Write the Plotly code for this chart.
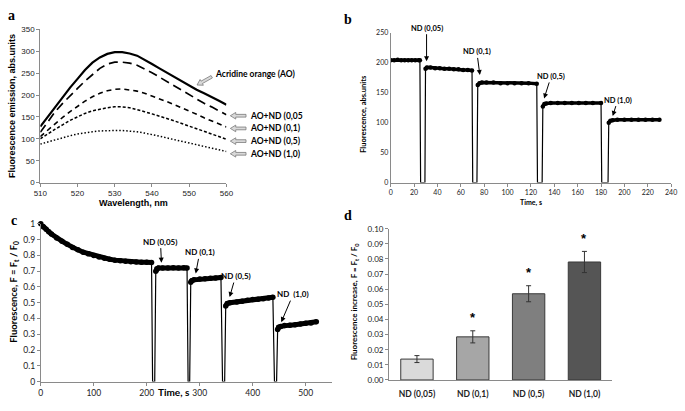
import math
import plotly.graph_objects as go

W, H = 685, 411

# ---------------- data ----------------
# panel a: emission spectra
wavelength_nm = [510, 512, 514, 516, 518, 520, 522, 524, 526, 528, 530, 532, 534,
                 536, 538, 540, 542, 544, 546, 548, 550, 552, 554, 556, 558, 560]
ao = [128, 150, 172, 196, 217, 237, 257, 274, 286, 294, 298, 298, 295,
      290, 281, 271, 261, 251, 241, 231, 221, 212, 204, 196, 187, 178]
ao_nd_005 = [115, 140, 162, 181, 199, 215, 232, 247, 261, 271, 275, 275, 273,
             268, 260, 251, 241, 231, 221, 211, 200, 190, 181, 173, 164, 155]
ao_nd_01 = [105, 120, 135, 149, 162, 175, 186, 196, 204, 210, 213, 214, 212,
            209, 204, 198, 192, 185, 178, 171, 164, 156, 148, 141, 134, 127]
ao_nd_05 = [100, 112, 122, 132, 142, 150, 158, 164, 168, 171, 173, 173, 171,
            167, 162, 157, 152, 147, 141, 135, 129, 123, 117, 111, 105, 99]
ao_nd_10 = [88, 93, 98, 103, 107, 111, 114, 116, 118, 119, 119, 119, 118,
            116, 113, 110, 106, 102, 98, 94, 90, 86, 82, 78, 75, 71]
spectra_names = ["Acridine orange (AO)", "AO+ND (0,05", "AO+ND (0,1)", "AO+ND (0,5)", "AO+ND (1,0)"]

# panel b: fluorescence vs time (abs. units)
b_plateau_time = [
    [0, 3, 6, 9, 12, 15, 18, 21, 24, 25],
    [29.8, 31, 34, 38, 42, 46, 50, 54, 58, 62, 66, 69.6],
    [74.5, 76, 78, 82, 88, 94, 100, 106, 112, 118, 125],
    [130.2, 131.5, 133, 137, 143, 149, 155, 161, 167, 173, 180],
    [186.6, 188, 190, 194, 200, 206, 212, 218, 224, 230],
]
b_plateau_signal = [
    [204, 204, 205, 204, 204, 204, 204, 204, 204, 204],
    [190, 192, 192, 191, 191, 190, 190, 189, 189, 188, 188, 187],
    [163, 166, 167, 167, 167, 166, 166, 166, 166, 166, 165],
    [127, 131, 132, 133, 133, 133, 133, 133, 133, 133, 133],
    [100, 103, 104, 105, 105, 105, 105, 105, 105, 105],
]
b_gap_time = [[25.6, 29.3], [70.2, 73.8], [125.6, 129.6], [180.6, 186.0]]
b_gap_signal = [[0, 0], [0, 0], [0, 0], [0, 0]]
b_add_labels = ["ND (0,05)", "ND (0,1)", "ND (0,5)", "ND (1,0)"]
b_add_time = [30.7, 76.3, 131.3, 190.0]
b_add_level = [202.6, 179.7, 140.5, 111.0]

# panel c: normalised fluorescence F = Ft/F0 vs time
c_plateau_time = [
    [0, 5, 10, 15, 20, 30, 40, 50, 60, 70, 80, 90, 100, 110, 120, 130, 140, 150,
     160, 170, 180, 190, 200, 209],
    [217, 219, 222, 230, 240, 250, 260, 270, 276],
    [283, 285, 289, 300, 310, 320, 330, 340],
    [349, 352, 357, 370, 380, 390, 400, 410, 420, 430, 438],
    [447, 449, 453, 460, 470, 480, 490, 500, 510, 520],
]
c_plateau_signal = [
    [1.0, 0.98, 0.965, 0.95, 0.935, 0.91, 0.89, 0.87, 0.85, 0.835, 0.82, 0.81, 0.80,
     0.79, 0.782, 0.776, 0.77, 0.766, 0.763, 0.76, 0.758, 0.757, 0.756, 0.755],
    [0.70, 0.715, 0.72, 0.72, 0.72, 0.722, 0.72, 0.722, 0.72],
    [0.63, 0.64, 0.645, 0.65, 0.652, 0.655, 0.657, 0.66],
    [0.48, 0.495, 0.50, 0.505, 0.51, 0.515, 0.52, 0.522, 0.525, 0.53, 0.535],
    [0.33, 0.345, 0.35, 0.355, 0.358, 0.36, 0.365, 0.37, 0.372, 0.38],
]
c_gap_time = [[211, 215], [278, 281], [343, 347], [441, 445]]
c_gap_signal = [[0, 0], [0, 0], [0, 0], [0, 0]]
c_add_labels = ["ND (0,05)", "ND (0,1)", "ND (0,5)", "ND\u00a0 (1,0)"]
c_add_time = [227.7, 292.4, 356.4, 453.8]
c_add_level = [0.754, 0.686, 0.536, 0.377]

# panel d: fluorescence increase
d_labels = ["ND (0,05)", "ND (0,1)", "ND (0,5)", "ND (1,0)"]
d_values = [0.0138, 0.0285, 0.057, 0.078]
d_errors = [0.0023, 0.0040, 0.0053, 0.0070]
d_significant = [False, True, True, True]

# ---------------- styles ----------------
ARIAL = "Liberation Sans, Arial, sans-serif"
CALIBRI = "Lato, Carlito, Calibri, sans-serif"
SERIF = "Liberation Serif, Times New Roman, serif"
AX_GRAY = "#8a8a8a"
TXT = "#222222"
BAR_COLORS = ["#dadada", "#a6a6a6", "#7f7f7f", "#555555"]
SPEC_STYLES = [
    dict(width=2.2, dash="solid"),
    dict(width=1.7, dash="9px,5px"),
    dict(width=1.6, dash="5px,4px"),
    dict(width=1.5, dash="3px,2px"),
    dict(width=1.5, dash="1.5px,2px"),
]
B_ARROW_DY = [-33, -23, -22, -16]
B_ARROW_DX = [0, -3, 7, 5]
C_ARROW_DY = [-21, -21, -21, -28]
C_ARROW_DX = [-1, 4, 6, 12]


def fx(p):
    return p / W


def fy(p):
    return 1 - p / H


def series(plat_t, plat_v, gap_t, gap_v):
    """Build the continuous trace and the thick plateau overlay."""
    full_t, full_v, thick_t, thick_v = [], [], [], []
    for i in range(len(plat_t)):
        full_t += plat_t[i]
        full_v += plat_v[i]
        thick_t += plat_t[i] + [None]
        thick_v += plat_v[i] + [None]
        if i < len(gap_t):
            full_t += gap_t[i]
            full_v += gap_v[i]
    return full_t, full_v, thick_t, thick_v


fig = go.Figure()

# ---- panel a ----
for vals, name, st in zip([ao, ao_nd_005, ao_nd_01, ao_nd_05, ao_nd_10], spectra_names, SPEC_STYLES):
    fig.add_trace(go.Scatter(x=wavelength_nm, y=vals, name=name, mode="lines",
                             line=dict(color="black", width=st["width"], dash=st["dash"]),
                             xaxis="x", yaxis="y", showlegend=False))

# ---- panel b ----
bt, bv, btt, btv = series(b_plateau_time, b_plateau_signal, b_gap_time, b_gap_signal)
fig.add_trace(go.Scatter(x=bt, y=bv, mode="lines", line=dict(color="black", width=1.2),
                         xaxis="x2", yaxis="y2", showlegend=False))
fig.add_trace(go.Scatter(x=btt, y=btv, mode="lines+markers", line=dict(color="black", width=3.5),
                         marker=dict(color="black", size=4.5), xaxis="x2", yaxis="y2", showlegend=False))

# ---- panel c ----
ct, cv, ctt, ctv = series(c_plateau_time, c_plateau_signal, c_gap_time, c_gap_signal)
fig.add_trace(go.Scatter(x=ct, y=cv, mode="lines", line=dict(color="black", width=1.2),
                         xaxis="x3", yaxis="y3", showlegend=False))
fig.add_trace(go.Scatter(x=ctt, y=ctv, mode="lines+markers", line=dict(color="black", width=5),
                         marker=dict(color="black", size=5.5), xaxis="x3", yaxis="y3",
                         showlegend=False, cliponaxis=False))

# ---- panel d ----
fig.add_trace(go.Bar(x=d_labels, y=d_values, width=0.58, textposition="none",
                     marker=dict(color=BAR_COLORS, line=dict(color="#3a3a3a", width=1)),
                     error_y=dict(type="data", array=d_errors, color="#333333", thickness=1, width=2.5),
                     xaxis="x4", yaxis="y4", showlegend=False))


def axis(domain, rng, anchor, dtick=None, tickfont=None, ticks="outside", ticklen=3, **kw):
    d = dict(domain=domain, anchor=anchor, showgrid=False, zeroline=False, showline=True,
             linecolor=AX_GRAY, linewidth=1, ticks=ticks, ticklen=ticklen, tickcolor=AX_GRAY,
             tickfont=tickfont, fixedrange=True, ticklabeloverflow="allow")
    if rng is not None:
        d["range"] = rng
    if dtick is not None:
        d["dtick"] = dtick
    d.update(kw)
    return d


fa = dict(family=ARIAL, size=8, color=TXT)
fb = dict(family=CALIBRI, size=7, color=TXT)
fc = dict(family=CALIBRI, size=8.5, color=TXT)
fd = dict(family=CALIBRI, size=8, color=TXT)
bold_a = dict(family=ARIAL, size=9, color="black", weight="bold")

fig.update_layout(
    width=W, height=H, autosize=False,
    margin=dict(l=0, r=0, t=0, b=0),
    paper_bgcolor="white", plot_bgcolor="white",
    xaxis=axis([fx(34), fx(224)], [510, 560], "y", 10, fa,
               title=dict(text="Wavelength, nm", font=bold_a, standoff=2)),
    yaxis=axis([fy(182), fy(25)], [0, 350], "x", 50, fa,
               title=dict(text="Fluorescence emission, abs.units", font=bold_a, standoff=4)),
    xaxis2=axis([fx(391.7), fx(678)], [0, 240], "y2", 20, fb),
    yaxis2=axis([fy(182), fy(28.5)], [0, 250], "x2", 50, fb, ticks="", ticklen=0),
    xaxis3=axis([fx(34.5), fx(332)], [0, 550], "y3", 100, fc),
    yaxis3=axis([fy(386), fy(224.3)], [0, 1], "x3", 0.1, fc),
    xaxis4=axis([fx(390), fx(618)], None, "y4", None,
                dict(family=CALIBRI, size=8.5, color=TXT, weight="bold"), ticklen=6,
                tickcolor="rgba(0,0,0,0)", type="category"),
    yaxis4=axis([fy(384.3), fy(229.3)], [0, 0.1], "x4", 0.01, fd, tickformat=".2f"),
)

ann = []
shapes = []


def text(x, y, s, font, angle=0, xanchor="center", yanchor="middle"):
    ann.append(dict(x=fx(x), y=fy(y), xref="paper", yref="paper", text=s, showarrow=False,
                    font=font, textangle=angle, xanchor=xanchor, yanchor=yanchor))


def block_arrow(tail, tip, shaft=1.4, head=3.4, head_len=5.5):
    """Hollow grey block arrow, drawn as a closed path in pixel space -> paper."""
    (x0, y0), (x1, y1) = tail, tip
    dx, dy = x1 - x0, y1 - y0
    L = math.hypot(dx, dy)
    ux, uy = dx / L, dy / L
    nx, ny = -uy, ux
    bx, by = x1 - ux * head_len, y1 - uy * head_len
    pts = [
        (x0 + nx * shaft, y0 + ny * shaft),
        (bx + nx * shaft, by + ny * shaft),
        (bx + nx * head, by + ny * head),
        (x1, y1),
        (bx - nx * head, by - ny * head),
        (bx - nx * shaft, by - ny * shaft),
        (x0 - nx * shaft, y0 - ny * shaft),
    ]
    path = "M " + " L ".join(f"{fx(px):.5f},{fy(py):.5f}" for px, py in pts) + " Z"
    shapes.append(dict(type="path", path=path, xref="paper", yref="paper",
                       fillcolor="#d9d9d9", line=dict(color="#7a7a7a", width=0.8)))


letter = dict(family=SERIF, size=14, color="black", weight="bold")

# panel letters
text(5, 11, "a", letter)
text(348.5, 15, "b", letter)
text(7.5, 221, "c", letter)
text(348, 215.5, "d", letter)

# axis titles (panels b-d)
text(364, 112, "Fluorescence, abs.units", dict(family=CALIBRI, size=7.5, color="black", weight="bold"),
     angle=-90)
text(535, 202.5, "Time, s", dict(family=CALIBRI, size=7, color="black", weight="bold"))
text(7, 294, "Fluorescence, F = F<sub>t</sub> / F<sub>0</sub>",
     dict(family=CALIBRI, size=9.5, color="black", weight="bold"), angle=-90)
text(170, 397, "Time, s", dict(family=CALIBRI, size=10, color="black", weight="bold"))
text(355, 304, "Fluorescence increase, F = F<sub>t</sub> / F<sub>0</sub>",
     dict(family=CALIBRI, size=8, color="black", weight="bold"), angle=-90)

# panel a labels + grey block arrows
lab_font = dict(family=CALIBRI, size=8.5, color="black", weight="bold")
text(210.5, 71, spectra_names[0], lab_font, xanchor="left")
block_arrow((209, 73.5), (194, 82))
for name, yy in zip(spectra_names[1:], [113.5, 126.5, 139.5, 152.5]):
    text(246, yy, name, lab_font, xanchor="left")
    block_arrow((244, yy), (228, yy))

# panel b additions
for lab, t, lv, axo, ayo in zip(b_add_labels, b_add_time, b_add_level, B_ARROW_DX, B_ARROW_DY):
    ann.append(dict(x=t, y=lv, xref="x2", yref="y2", text=lab, showarrow=True,
                    ax=axo, ay=ayo, arrowhead=2, arrowsize=1, arrowwidth=1, arrowcolor="black",
                    font=dict(family=CALIBRI, size=7.5, color="black", weight="bold"), standoff=0))

# panel c additions
for lab, t, lv, axo, ayo in zip(c_add_labels, c_add_time, c_add_level, C_ARROW_DX, C_ARROW_DY):
    ann.append(dict(x=t, y=lv, xref="x3", yref="y3", text=lab, showarrow=True,
                    ax=axo, ay=ayo, arrowhead=2, arrowsize=1, arrowwidth=1, arrowcolor="black",
                    font=dict(family=CALIBRI, size=8, color="black", weight="bold"), standoff=0))

# panel d significance stars
for lab, v, e, s in zip(d_labels, d_values, d_errors, d_significant):
    if s:
        ann.append(dict(x=lab, y=v + e + 0.0085, xref="x4", yref="y4", text="*",
                        showarrow=False, font=dict(family=ARIAL, size=13, color="black", weight="bold"),
                        yanchor="middle"))

fig.update_layout(annotations=ann, shapes=shapes)
fig.write_html("out.html", config={"displayModeBar": False},
               post_script="document.body.style.margin='0px';document.body.style.overflow='hidden';")
